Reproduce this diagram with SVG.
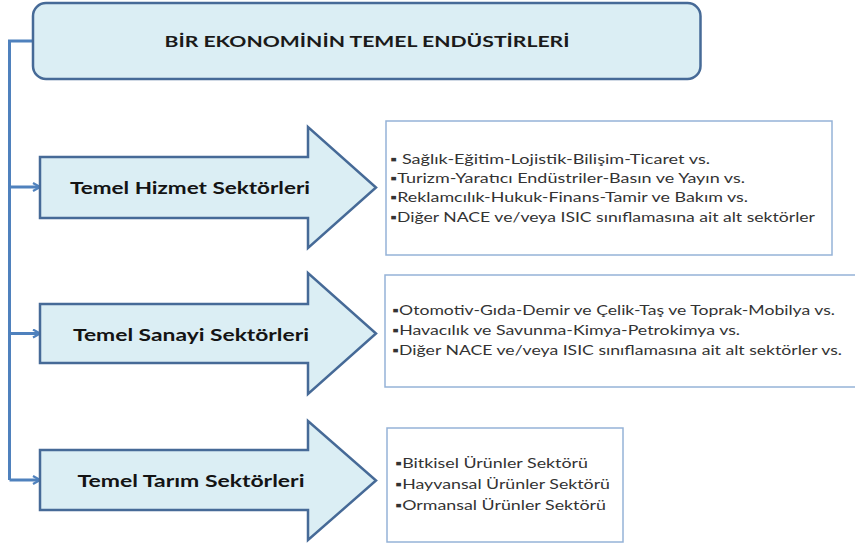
<svg xmlns="http://www.w3.org/2000/svg" width="855" height="545" viewBox="0 0 855 545">
  <defs>
    <style>
      .main { fill: #DBEEF4; stroke: #466A97; stroke-width: 2.5; stroke-linejoin: miter; }
      .list { fill: #FFFFFF; stroke: #95B3D7; stroke-width: 1.5; }
      .conn { fill: none; stroke: #4F81BD; stroke-width: 3; }
      .title { font-family: "Lato", "Liberation Sans", sans-serif; font-size: 16px; font-weight: bold; fill: #1A1A1A; }
      .label { font-family: "Lato", "Liberation Sans", sans-serif; font-size: 17px; font-weight: bold; fill: #141414; }
      .item { font-family: "Lato", "Liberation Sans", "DejaVu Sans", sans-serif; font-size: 13px; fill: #333333; }
    </style>
    <marker id="openArrow" viewBox="0 0 10 10" refX="9" refY="5" markerWidth="10" markerHeight="10" markerUnits="userSpaceOnUse" orient="auto">
      <polyline points="2,1 9,5 2,9" fill="none" stroke="#4F81BD" stroke-width="2.2"/>
    </marker>
  </defs>

  <rect width="855" height="545" fill="#FFFFFF"/>

  <g id="connectors">
    <polyline class="conn" points="33,41 9.5,41 9.5,480"/>
    <line class="conn" x1="9.5" y1="187" x2="40" y2="187" marker-end="url(#openArrow)"/>
    <line class="conn" x1="9.5" y1="333.5" x2="40" y2="333.5" marker-end="url(#openArrow)"/>
    <line class="conn" x1="9.5" y1="480" x2="40" y2="480" marker-end="url(#openArrow)"/>
  </g>

  <g id="root">
    <rect class="main" x="33" y="3" width="667.5" height="76" rx="13" ry="13"/>
    <text class="title" x="367" y="47" text-anchor="middle" textLength="405" lengthAdjust="spacingAndGlyphs">BİR EKONOMİNİN TEMEL ENDÜSTİRLERİ</text>
  </g>

  <g id="hizmet">
    <polygon class="main" points="40,157 308,157 308,127 376,187.5 308,248 308,218 40,218"/>
    <text class="label" x="190" y="194" text-anchor="middle" textLength="240" lengthAdjust="spacingAndGlyphs">Temel Hizmet Sektörleri</text>
  </g>

  <g id="sanayi">
    <polygon class="main" points="40,304 308,304 308,273 376,333.5 308,394 308,363 40,363"/>
    <text class="label" x="191" y="341" text-anchor="middle" textLength="236" lengthAdjust="spacingAndGlyphs">Temel Sanayi Sektörleri</text>
  </g>

  <g id="tarim">
    <polygon class="main" points="40,450 308,450 308,421 376,480.5 308,540 308,510 40,510"/>
    <text class="label" x="191" y="487" text-anchor="middle" textLength="227" lengthAdjust="spacingAndGlyphs">Temel Tarım Sektörleri</text>
  </g>

  <g id="hizmet-list">
    <rect class="list" x="386" y="121" width="446" height="134"/>
    <text class="item" x="390" y="164" textLength="320" lengthAdjust="spacingAndGlyphs">▪ Sağlık-Eğitim-Lojistik-Bilişim-Ticaret  vs.</text>
    <text class="item" x="390" y="183" textLength="355" lengthAdjust="spacingAndGlyphs">▪Turizm-Yaratıcı Endüstriler-Basın ve Yayın vs.</text>
    <text class="item" x="390" y="202" textLength="358" lengthAdjust="spacingAndGlyphs">▪Reklamcılık-Hukuk-Finans-Tamir ve Bakım vs.</text>
    <text class="item" x="390" y="222" textLength="425" lengthAdjust="spacingAndGlyphs">▪Diğer NACE ve/veya ISIC sınıflamasına ait alt sektörler</text>
  </g>

  <g id="sanayi-list">
    <rect class="list" x="385" y="275" width="480" height="112"/>
    <text class="item" x="392" y="315" textLength="443" lengthAdjust="spacingAndGlyphs">▪Otomotiv-Gıda-Demir ve Çelik-Taş ve Toprak-Mobilya vs.</text>
    <text class="item" x="392" y="335" textLength="348" lengthAdjust="spacingAndGlyphs">▪Havacılık ve Savunma-Kimya-Petrokimya vs.</text>
    <text class="item" x="392" y="355" textLength="450" lengthAdjust="spacingAndGlyphs">▪Diğer NACE ve/veya ISIC sınıflamasına ait alt sektörler vs.</text>
  </g>

  <g id="tarim-list">
    <rect class="list" x="387" y="428" width="236" height="114"/>
    <text class="item" x="395" y="468" textLength="193" lengthAdjust="spacingAndGlyphs">▪Bitkisel Ürünler Sektörü</text>
    <text class="item" x="395" y="489" textLength="215" lengthAdjust="spacingAndGlyphs">▪Hayvansal Ürünler Sektörü</text>
    <text class="item" x="395" y="510" textLength="211" lengthAdjust="spacingAndGlyphs">▪Ormansal Ürünler Sektörü</text>
  </g>
</svg>
